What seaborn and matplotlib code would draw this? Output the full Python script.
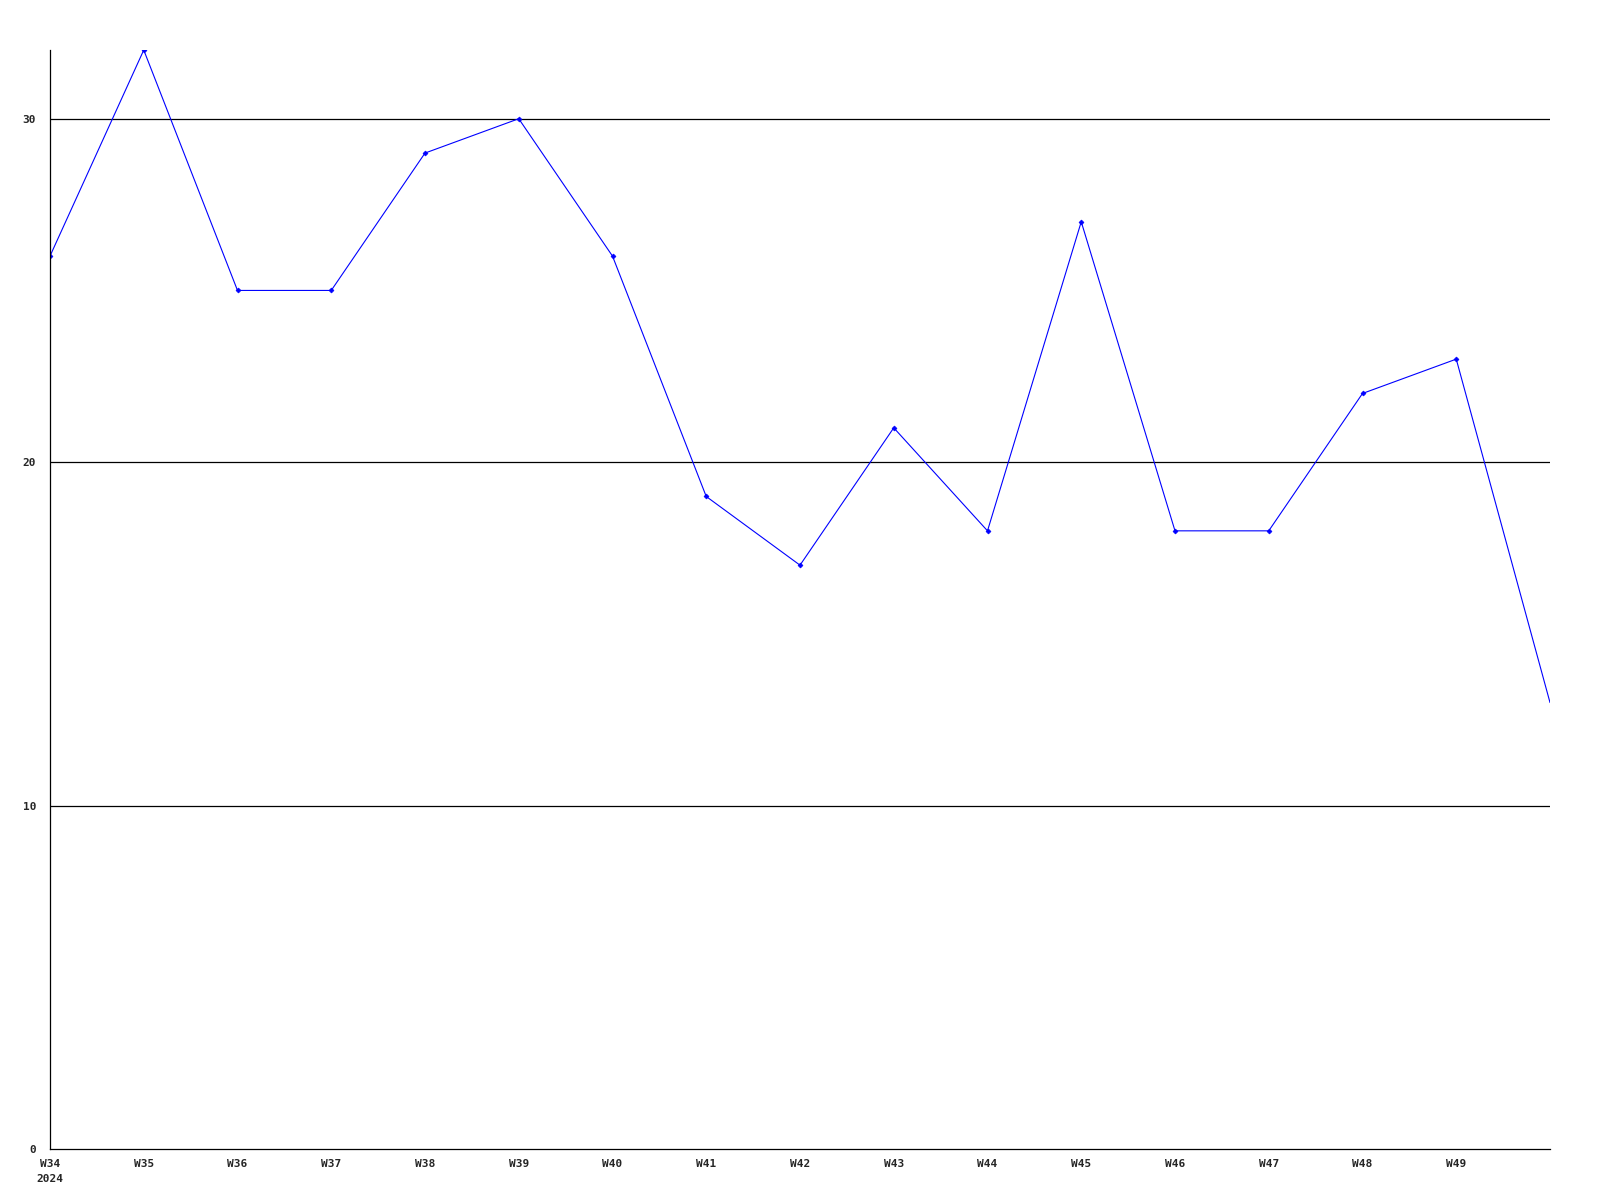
import matplotlib
matplotlib.use("Agg")
import matplotlib.pyplot as plt
import seaborn as sns

# Weekly counts
weeks = ["W34", "W35", "W36", "W37", "W38", "W39", "W40", "W41",
         "W42", "W43", "W44", "W45", "W46", "W47", "W48", "W49"]
year_label = "2024"
counts = [26, 32, 25, 25, 29, 30, 26, 19, 17, 21, 18, 27, 18, 18, 22, 23, 13]
y_ticks = [0, 10, 20, 30]


def main():
    sns.set_style("white")
    plt.rcParams['font.family'] = ['DejaVu Sans Mono']

    fig = plt.figure(figsize=(16, 12), dpi=100)
    ax = fig.add_axes([0.03125, 0.0425, 0.9375, 0.9158])

    x = list(range(len(counts)))
    sns.lineplot(x=x, y=counts, ax=ax, color="#0000ff", linewidth=0.8,
                 marker="D", markersize=2.5, markeredgewidth=0.5,
                 markeredgecolor="#0000ff",
                 markevery=list(range(len(counts) - 1)))

    # horizontal grid lines
    for v in y_ticks[1:]:
        ax.axhline(v, color="black", linewidth=0.9, zorder=0)

    ax.set_xlim(0, len(counts) - 1)
    ax.set_ylim(0, max(counts))

    labels = list(weeks)
    labels[0] = labels[0] + "\n" + year_label
    ax.set_xticks(range(len(weeks)))
    ax.set_xticklabels(labels, fontsize=8, fontweight="bold", linespacing=1.6,
                       va="top")
    ax.set_yticks(y_ticks)
    ax.set_yticklabels([str(v) for v in y_ticks], fontsize=8, fontweight="bold")
    ax.tick_params(axis="both", length=0)
    ax.tick_params(axis="x", pad=7)
    ax.tick_params(axis="y", pad=10)
    for lbl in ax.get_yticklabels():
        lbl.set_horizontalalignment("right")

    sns.despine(ax=ax)
    ax.spines["left"].set_color("black")
    ax.spines["bottom"].set_color("black")
    ax.spines["left"].set_linewidth(0.9)
    ax.spines["bottom"].set_linewidth(0.9)
    ax.set_xlabel("")
    ax.set_ylabel("")

    fig.savefig("out.png", dpi=100)


if __name__ == '__main__':
    main()
